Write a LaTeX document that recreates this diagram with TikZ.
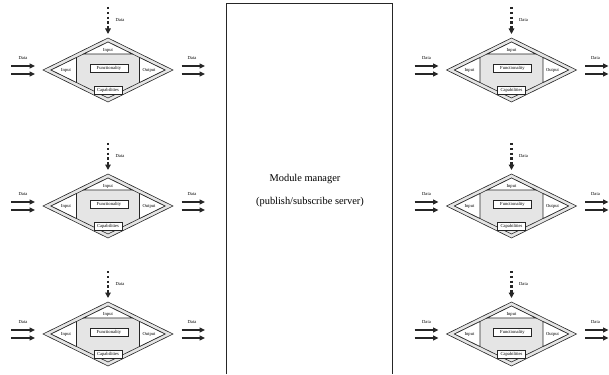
\documentclass[tikz,border=0pt]{standalone}
\usepackage{fontspec}
\setmainfont{Liberation Serif}
\usetikzlibrary{arrows.meta}
\tikzset{
  outline/.style={draw=black!85, line width=0.6pt},
  tiny/.style={font=\fontsize{4.6}{5}\selectfont, inner sep=0pt},
  labelbox/.style={draw=black!85, line width=0.6pt, fill=white, inner sep=0pt, font=\fontsize{4.6}{5}\selectfont},
  dataarrow/.style={line width=1.9pt, black!85, -{Triangle[length=5.5pt,width=5pt]}},
  dotarrow/.style={line width=2.2pt, black!85, dash pattern=on 2.4pt off 2.4pt, -{Triangle[length=5.5pt,width=5.5pt]}},
  big/.style={font=\fontsize{10.4}{12}\selectfont, inner sep=0pt}
}
\newcommand\mymodule[3]{%
\begin{scope}[shift={(#2,#3)}]
  \path[outline, fill=gray!20] (-65,0) -- (0,-32) -- (65,0) -- (0,32) -- cycle;
  \path[outline, fill=gray!20] (-57,0) -- (0,-28) -- (57,0) -- (0,28) -- cycle;
  \path[outline, fill=white] (0,-28) -- (24.4,-16) -- (-24.4,-16) -- cycle;
  \path[outline, fill=white] (-57,0) -- (-31.5,-12.5) -- (-31.5,12.5) -- cycle;
  \path[outline, fill=white] (57,0) -- (31.5,-12.5) -- (31.5,12.5) -- cycle;
  \node[tiny] (#1ti) at (0,-20) {Input};
  \node[tiny] (#1li) at (-42,0.5) {Input};
  \node[tiny] (#1ro) at (41,0.5) {Output};
  \node[labelbox, minimum width=38pt, minimum height=8pt] (#1f) at (1,-2) {Functionality};
  \node[labelbox, minimum width=28pt, minimum height=8pt] (#1c) at (0,20) {Capabilities};
  \coordinate (#1ds) at (0,-63);
  \coordinate (#1de) at (0,-36);
  \draw[dotarrow] (#1ds) -- (#1de);
  \node[tiny] (#1dl) at (12,-50) {Data};
  \coordinate (#1la) at (-97,-4);
  \coordinate (#1lb) at (-73,-4);
  \coordinate (#1lc) at (-97,4);
  \coordinate (#1ld) at (-73,4);
  \draw[dataarrow] (#1la) -- (#1lb);
  \draw[dataarrow] (#1lc) -- (#1ld);
  \node[tiny] (#1ll) at (-85,-12) {Data};
  \coordinate (#1ra) at (73.5,-4);
  \coordinate (#1rb) at (97,-4);
  \coordinate (#1rc) at (73.5,4);
  \coordinate (#1rd) at (97,4);
  \draw[dataarrow] (#1ra) -- (#1rb);
  \draw[dataarrow] (#1rc) -- (#1rd);
  \node[tiny] (#1rl) at (84,-12) {Data};
\end{scope}}
\begin{document}
\begin{tikzpicture}[x=1pt,y=-1pt]
\useasboundingbox (0,0) rectangle (609,374);
\mymodule{a}{108}{70}
\mymodule{b}{108}{206}
\mymodule{c}{108}{334}
\mymodule{d}{511.5}{70}
\mymodule{e}{511.5}{206}
\mymodule{f}{511.5}{334}
\coordinate (mm1) at (226,374);
\coordinate (mm2) at (226,3);
\coordinate (mm3) at (392,3);
\coordinate (mm4) at (392,374);
\draw[line width=0.9pt, black!85] (mm1) -- (mm2) -- (mm3) -- (mm4);
\node[big] (mmt) at (305,179) {Module manager};
\node[big] (mms) at (310,202) {(publish/subscribe server)};
\end{tikzpicture}
\end{document}
